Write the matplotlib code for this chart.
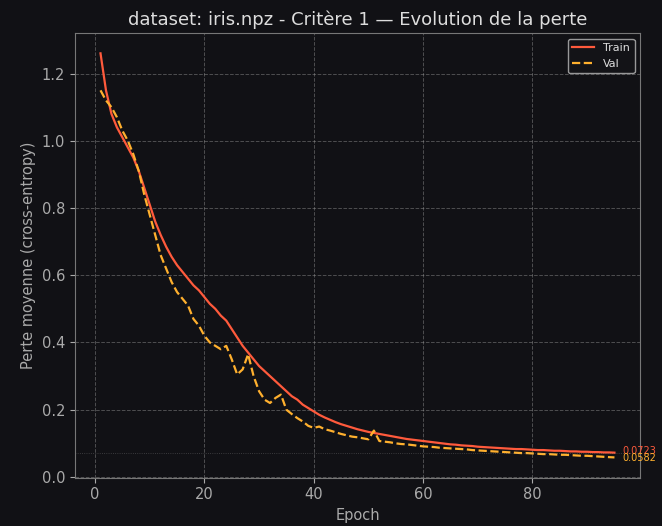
import matplotlib.pyplot as plt
import numpy as np

# loss history per epoch
epochs = np.arange(1, 96)

train_loss = [
    1.26, 1.15, 1.08, 1.04, 1.01, 0.98, 0.95, 0.91, 0.86, 0.81,
    0.76, 0.72, 0.685, 0.655, 0.63, 0.61, 0.59, 0.57, 0.555, 0.535,
    0.515, 0.50, 0.48, 0.465, 0.44, 0.415, 0.39, 0.37, 0.35, 0.33,
    0.315, 0.30, 0.285, 0.27, 0.255, 0.24, 0.23, 0.215, 0.205, 0.195,
    0.185, 0.177, 0.17, 0.163, 0.157, 0.152, 0.147, 0.142, 0.138, 0.134,
    0.131, 0.128, 0.125, 0.122, 0.119, 0.116, 0.113, 0.111, 0.109, 0.107,
    0.105, 0.103, 0.101, 0.099, 0.097, 0.096, 0.094, 0.093, 0.092, 0.090,
    0.089, 0.088, 0.087, 0.086, 0.085, 0.084, 0.083, 0.083, 0.082, 0.081,
    0.080, 0.080, 0.079, 0.078, 0.078, 0.077, 0.076, 0.076, 0.075, 0.075,
    0.074, 0.074, 0.073, 0.073, 0.0723,
]

val_loss = [
    1.15, 1.12, 1.10, 1.07, 1.03, 1.00, 0.96, 0.91, 0.84, 0.78,
    0.72, 0.66, 0.62, 0.58, 0.55, 0.53, 0.51, 0.47, 0.45, 0.42,
    0.40, 0.39, 0.38, 0.39, 0.35, 0.305, 0.32, 0.365, 0.30, 0.255,
    0.23, 0.22, 0.235, 0.245, 0.20, 0.187, 0.175, 0.165, 0.152, 0.146,
    0.15, 0.142, 0.138, 0.133, 0.128, 0.124, 0.12, 0.118, 0.115, 0.112,
    0.138, 0.107, 0.105, 0.103, 0.10, 0.098, 0.097, 0.095, 0.093, 0.091,
    0.09, 0.089, 0.087, 0.086, 0.085, 0.084, 0.083, 0.082, 0.08, 0.079,
    0.078, 0.077, 0.076, 0.075, 0.074, 0.073, 0.072, 0.071, 0.071, 0.07,
    0.069, 0.068, 0.068, 0.067, 0.066, 0.066, 0.065, 0.064, 0.063, 0.063,
    0.062, 0.061, 0.060, 0.059, 0.0582,
]

bg = "#111115"
train_color = "#ff5a3c"
val_color = "#ffb02e"

fig, ax = plt.subplots(figsize=(6.62, 5.26), dpi=100)
fig.patch.set_facecolor(bg)
ax.set_facecolor(bg)

ax.plot(epochs, train_loss, color=train_color, lw=1.6, label="Train")
ax.plot(epochs, val_loss, color=val_color, lw=1.6, ls="--", label="Val")

# faint reference at the final train loss
ax.axhline(train_loss[-1], color="#999999", lw=0.6, ls=":", alpha=0.4)

# final values next to the line ends
ax.text(epochs[-1] + 1.5, train_loss[-1] + 0.004, f"{train_loss[-1]:.4f}",
        color=train_color, fontsize=7, va="center", ha="left", clip_on=False)
ax.text(epochs[-1] + 1.5, val_loss[-1] - 0.002, f"{val_loss[-1]:.4f}",
        color=val_color, fontsize=7, va="center", ha="left", clip_on=False)

ax.grid(True, color="#aaaaaa", ls="--", lw=0.7, alpha=0.4)
for s in ax.spines.values():
    s.set_color("#777777")
ax.tick_params(colors="#aaaaaa", labelsize=10.5)

ax.set_title("dataset: iris.npz - Critère 1 — Evolution de la perte",
             color="#dddddd", fontsize=13)
ax.set_xlabel("Epoch", color="#aaaaaa", fontsize=10.5)
ax.set_ylabel("Perte moyenne (cross-entropy)", color="#aaaaaa", fontsize=10.5)

leg = ax.legend(loc="upper right", fontsize=8, facecolor="#141418",
                edgecolor="#bbbbbb", labelcolor="#dddddd")

fig.subplots_adjust(left=0.113, right=0.967, top=0.937, bottom=0.092)
fig.savefig("out.png", facecolor=bg)
